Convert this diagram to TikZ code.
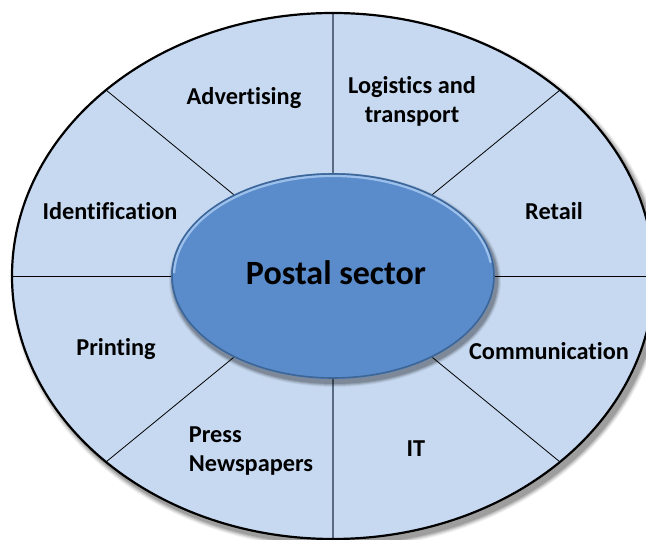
\documentclass[tikz,border=0pt]{standalone}
\usepackage{fontspec}
\setmainfont{Carlito}[Ligatures=NoCommon]
\usetikzlibrary{calc}
\definecolor{outerfill}{HTML}{C6D9F1}
\definecolor{innerfill}{HTML}{5A8BCB}
\definecolor{innerlight}{HTML}{9CC0EC}
\definecolor{innerdark}{HTML}{3D6595}
\definecolor{vline}{HTML}{5A6A80}
\tikzset{
  lbl/.style={font=\bfseries\fontsize{24.3}{29}\selectfont, align=center, inner sep=0pt, text=black},
  divider/.style={draw=black, line width=0.8pt},
  axisline/.style={draw=vline, line width=1.4pt},
}
\begin{document}
\begin{tikzpicture}[x=1pt,y=1pt]
\useasboundingbox (0,0) rectangle (646,540);
\clip (0,0) rectangle (646,540);
\coordinate (C) at (333,264);
% outer shadow
\foreach \i/\o in {5/0.05,4/0.07,3/0.09,2/0.11,1/0.13}{
  \fill[black, opacity=\o] ($(C)+(4,-5)$) ellipse [x radius=321+\i, y radius=263+\i];
}
% outer ellipse
\fill[outerfill] (C) ellipse [x radius=321, y radius=263];
% dividers
\coordinate (N) at ($(C)+(0,263)$);
\coordinate (S) at ($(C)+(0,-263)$);
\coordinate (W) at ($(C)+(-321,0)$);
\coordinate (E) at ($(C)+(321,0)$);
\coordinate (NE) at ($(C)+(45:321 and 263)$);
\coordinate (NW) at ($(C)+(135:321 and 263)$);
\coordinate (SW) at ($(C)+(225:321 and 263)$);
\coordinate (SE) at ($(C)+(315:321 and 263)$);
\draw[axisline] (C) -- (N);
\draw[axisline] (C) -- (S);
\draw[divider] (C) -- (W);
\draw[divider] (C) -- (E);
\draw[divider] (C) -- (NE);
\draw[divider] (C) -- (NW);
\draw[divider] (C) -- (SW);
\draw[divider] (C) -- (SE);
\draw[black, line width=2.2pt] (C) ellipse [x radius=321, y radius=263];
% inner shadow
\foreach \i/\o in {4/0.06,3/0.09,2/0.12,1/0.15}{
  \fill[black, opacity=\o] ($(C)+(2,-4)$) ellipse [x radius=162+\i, y radius=103+\i];
}
% inner ellipse
\fill[innerfill] (C) ellipse [x radius=162, y radius=103];
\draw[innerdark, line width=1.6pt] (C) ellipse [x radius=161, y radius=102];
\draw[innerlight, line width=2.2pt, line cap=round] ($(C)+(178:159 and 100)$) arc [start angle=178, end angle=8, x radius=159, y radius=100];
% labels
\node[font=\bfseries\fontsize{34}{40}\selectfont, inner sep=0pt] (postal) at (336,267) {Postal sector};
\node[lbl] (adv) at (244,442) {Advertising};
\node[lbl] (log) at (412,439) {Logistics and\\transport};
\node[lbl] (ident) at (110,329) {Identification};
\node[lbl] (retail) at (554,329) {Retail};
\node[lbl] (print) at (116,191) {Printing};
\node[lbl] (comm) at (549,189) {Communication};
\node[lbl, align=left] (press) at (251,89) {Press\\Newspapers};
\node[lbl] (it) at (416,91) {IT};
\end{tikzpicture}
\end{document}
